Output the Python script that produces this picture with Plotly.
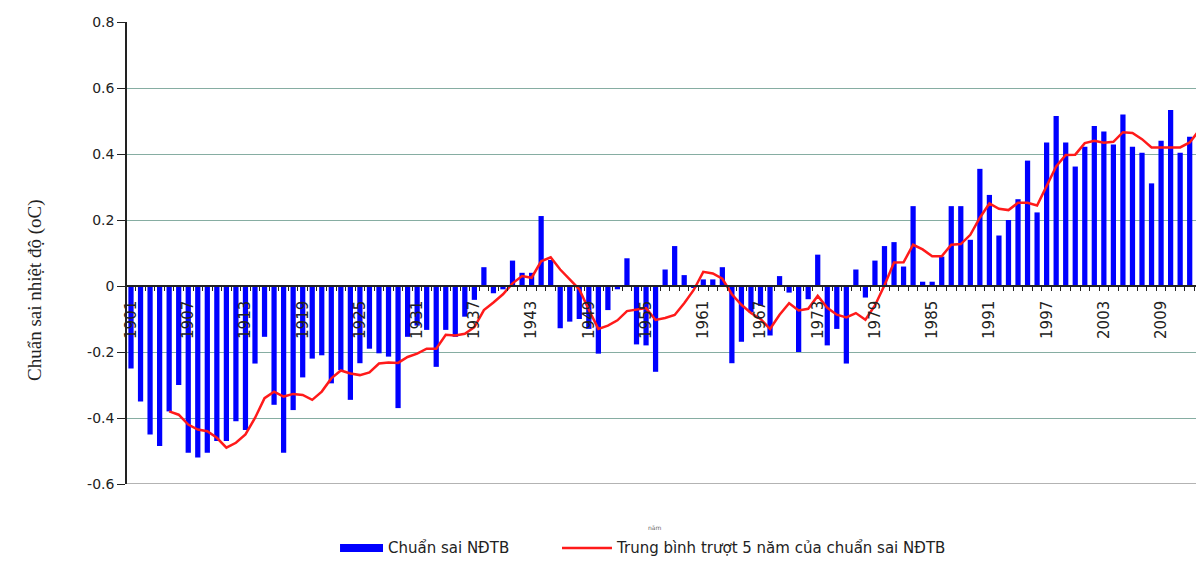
import plotly.graph_objects as go

years = list(range(1901, 2014))
anomaly = [
    -0.25, -0.35, -0.45, -0.485, -0.38, -0.30, -0.505, -0.52, -0.505, -0.47,
    -0.47, -0.41, -0.436, -0.235, -0.154, -0.36, -0.505, -0.376, -0.277, -0.22,
    -0.21, -0.295, -0.255, -0.345, -0.234, -0.19, -0.204, -0.214, -0.37, -0.154,
    -0.12, -0.133, -0.245, -0.133, -0.154, -0.093, -0.042, 0.057, -0.022, -0.01,
    0.077, 0.04, 0.04, 0.212, 0.079, -0.128, -0.108, -0.1, -0.13, -0.205,
    -0.073, -0.01, 0.084, -0.177, -0.18, -0.26, 0.05, 0.121, 0.033, -0.005,
    0.02, 0.02, 0.057, -0.234, -0.169, -0.08, -0.06, -0.15, 0.03, -0.02,
    -0.2, -0.04, 0.095, -0.18, -0.13, -0.235, 0.05, -0.035, 0.077, 0.121,
    0.133, 0.059, 0.242, 0.013, 0.013, 0.089, 0.242, 0.242, 0.14, 0.355,
    0.276, 0.153, 0.2, 0.263, 0.38, 0.223, 0.435, 0.515, 0.435, 0.362,
    0.422, 0.485, 0.468, 0.429, 0.52, 0.422, 0.404, 0.311, 0.44, 0.533,
    0.404, 0.452, 0.503,
]

ma_years = list(range(1905, 2014))
moving_avg = [
    -0.38, -0.39, -0.42, -0.435, -0.44, -0.46, -0.49, -0.475, -0.45, -0.40,
    -0.34, -0.32, -0.335, -0.327, -0.33, -0.345, -0.32, -0.28, -0.256, -0.265,
    -0.27, -0.262, -0.235, -0.232, -0.233, -0.215, -0.205, -0.19, -0.19, -0.148,
    -0.15, -0.145, -0.125, -0.073, -0.05, -0.025, 0.008, 0.03, 0.025, 0.075,
    0.087, 0.05, 0.02, -0.01, -0.072, -0.13, -0.12, -0.104, -0.076, -0.072,
    -0.067, -0.103, -0.097, -0.088, -0.052, -0.012, 0.043, 0.038, 0.022, -0.025,
    -0.057, -0.082, -0.1, -0.13, -0.087, -0.052, -0.074, -0.069, -0.03, -0.066,
    -0.087, -0.095, -0.082, -0.102, -0.059, 0.002, 0.071, 0.072, 0.125, 0.111,
    0.09, 0.09, 0.125, 0.127, 0.155, 0.207, 0.25, 0.234, 0.23, 0.252,
    0.252, 0.244, 0.303, 0.362, 0.397, 0.398, 0.433, 0.44, 0.434, 0.437,
    0.466, 0.464, 0.445, 0.42, 0.42, 0.421, 0.42, 0.435, 0.472,
]

x_tick_vals = [1901, 1907, 1913, 1919, 1925, 1931, 1937, 1943, 1949, 1955,
               1961, 1967, 1973, 1979, 1985, 1991, 1997, 2003, 2009]
x_tick_text = [str(v) for v in x_tick_vals]
y_tick_vals = [-0.6, -0.4, -0.2, 0, 0.2, 0.4, 0.6, 0.8]
y_tick_text = ["-0.6", "-0.4", "-0.2", "0", "0.2", "0.4", "0.6", "0.8"]

bar_name = "Chuẩn sai NĐTB"
line_name = "Trung bình trượt 5 năm của chuẩn sai NĐTB"
y_title = "Chuẩn sai nhiệt độ (oC)"
x_title = "năm"

BLUE = "#0000ff"
RED = "#ff1a1a"
SANS = "DejaVu Sans, Verdana, sans-serif"

fig = go.Figure()
fig.add_trace(go.Bar(x=years, y=anomaly, name=bar_name,
                     marker=dict(color=BLUE, line=dict(width=0))))
fig.add_trace(go.Scatter(x=ma_years, y=moving_avg, name=line_name, mode="lines",
                         line=dict(color=RED, width=2.5)))

# page body has an 8px margin; figure sized so the plot lands where the reference has it
fig.update_layout(
    width=1196, height=556,
    margin=dict(l=119, r=0, t=14, b=80),
    paper_bgcolor="white", plot_bgcolor="white",
    bargap=0.45,
    font=dict(family=SANS, size=14, color="#222"),
    showlegend=False,
    xaxis=dict(
        range=[1900.58, 2013.5], anchor="free", position=0.428571,
        showline=True, linecolor="#222", linewidth=1.5,
        showgrid=False, zeroline=False,
        tickmode="array", tickvals=x_tick_vals, ticktext=x_tick_text,
        tickangle=-90, ticks="outside", ticklen=8, tickcolor="rgba(0,0,0,0)",
        tickfont=dict(family=SANS, size=15, color="#222"),
        minor=dict(tick0=1900.5, dtick=1, ticks="outside", ticklen=4,
                   tickcolor="#222", showgrid=False),
    ),
    yaxis=dict(
        range=[-0.6, 0.8], showline=True, linecolor="#222", linewidth=1.5,
        tickmode="array", tickvals=y_tick_vals, ticktext=y_tick_text,
        ticks="outside", ticklen=8, tickcolor="#222",
        showgrid=True, gridcolor="#86ada2", gridwidth=1.3, zeroline=False,
        tickfont=dict(family=SANS, size=14, color="#222"),
    ),
    shapes=[
        dict(type="line", xref="paper", yref="y", x0=0, x1=1, y0=-0.6, y1=-0.6,
             line=dict(color="#9a9a9a", width=1.3), layer="below"),
        dict(type="rect", xref="paper", yref="paper", x0=0.1978, x1=0.2377,
             y0=-0.1472, y1=-0.1299, fillcolor=BLUE, line=dict(width=0)),
        dict(type="line", xref="paper", yref="paper", x0=0.4039, x1=0.4503,
             y0=-0.1385, y1=-0.1385, line=dict(color=RED, width=2.5)),
    ],
    annotations=[
        dict(text=y_title, textangle=-90, xref="paper", yref="paper",
             x=-0.0975, y=0.42, showarrow=False,
             font=dict(family="Liberation Serif, Times New Roman, serif", size=19, color="#222")),
        dict(text=x_title, xref="paper", yref="paper", x=0.49, y=-0.106, showarrow=False,
             font=dict(size=6, color="#666")),
        dict(text=bar_name, xref="paper", yref="paper", x=0.2405, y=-0.1385,
             xanchor="left", yanchor="middle", showarrow=False,
             font=dict(family=SANS, size=15, color="#222")),
        dict(text=line_name, xref="paper", yref="paper", x=0.4525, y=-0.1385,
             xanchor="left", yanchor="middle", showarrow=False,
             font=dict(family=SANS, size=15, color="#222")),
    ],
)

fig.write_html("out.html")
